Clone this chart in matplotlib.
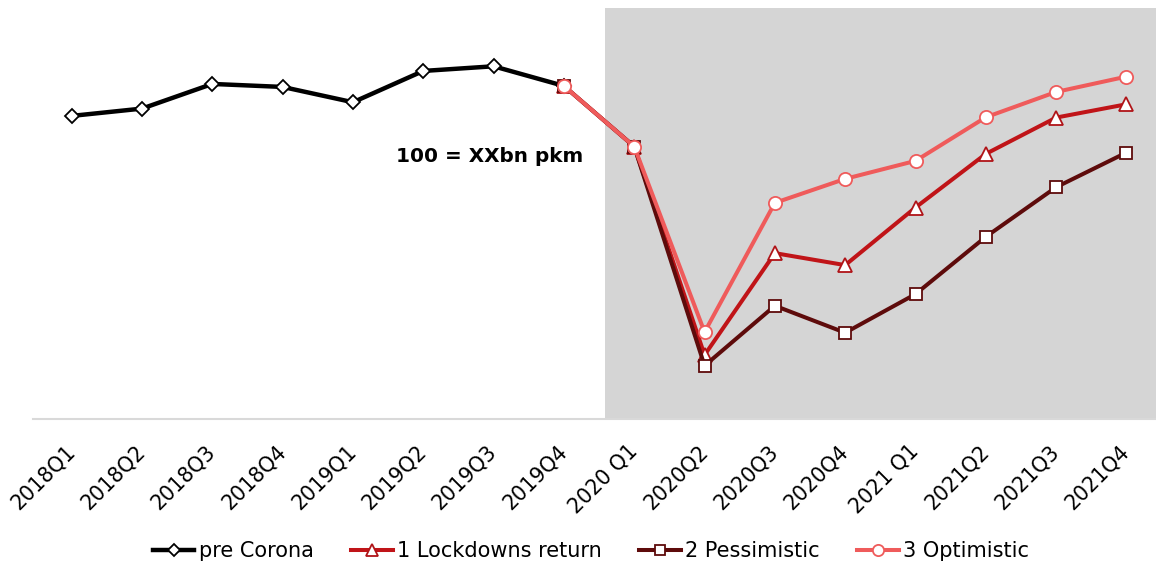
import matplotlib
matplotlib.use('Agg')
import matplotlib.pyplot as plt

# categories
quarters = ['2018Q1', '2018Q2', '2018Q3', '2018Q4', '2019Q1', '2019Q2', '2019Q3', '2019Q4',
            '2020 Q1', '2020Q2', '2020Q3', '2020Q4', '2021 Q1', '2021Q2', '2021Q3', '2021Q4']

# index values (2019Q4 = 100)
pre_corona = [91.0, 93.2, 100.6, 99.7, 95.1, 104.5, 105.9, 100.0]
# scenarios start at 2019Q4
lockdowns = [100.0, 81.8, 19.2, 49.8, 46.2, 63.5, 79.6, 90.5, 94.5]
pessimistic = [100.0, 81.8, 16.0, 34.0, 25.9, 37.5, 54.7, 69.6, 80.0]
optimistic = [100.0, 81.8, 26.1, 64.9, 72.1, 77.5, 90.6, 98.2, 102.8]

x_pre = list(range(len(pre_corona)))
x_scen = list(range(7, 7 + len(lockdowns)))

fig = plt.figure(figsize=(11.56, 5.66), dpi=100)
ax = fig.add_axes([33 / 1156, 147 / 566, 1123 / 1156, 411 / 566])

ax.set_xlim(-0.55, 15.42)
ax.set_ylim(0, 123.4)

# forecast period shading
ax.axvspan(7.59, 15.42, color='#D5D5D5', zorder=0, lw=0)

ax.plot(x_pre, pre_corona, color='black', lw=3.2, marker='D', ms=7,
        mfc='white', mec='black', mew=1.3, label='pre Corona', zorder=3)
ax.plot(x_scen, lockdowns, color='#C01418', lw=2.9, marker='^', ms=9.5,
        mfc='white', mec='#B01418', mew=1.3, label='1 Lockdowns return', zorder=4)
ax.plot(x_scen, pessimistic, color='#5E0B0B', lw=2.9, marker='s', ms=8,
        mfc='white', mec='#5E0B0B', mew=1.3, label='2 Pessimistic', zorder=5)
ax.plot(x_scen, optimistic, color='#EF5B5B', lw=2.9, marker='o', ms=9.5,
        mfc='white', mec='#EF5B5B', mew=1.3, label='3 Optimistic', zorder=6)

ax.text(5.94, 78.7, '100 = XXbn pkm', fontsize=14.4, fontweight='bold',
        ha='center', va='center')

ax.set_xticks(range(len(quarters)))
ax.set_xticklabels(quarters, fontsize=14.8)
ax.tick_params(axis='x', length=0, pad=21)
plt.setp(ax.get_xticklabels(), rotation=45, ha='right', va='center',
         rotation_mode='anchor')
ax.set_yticks([])

for s in ['top', 'right', 'left']:
    ax.spines[s].set_visible(False)
ax.spines['bottom'].set_color('#D9D9D9')
ax.spines['bottom'].set_linewidth(1.5)

fig.legend(loc='center', bbox_to_anchor=(0.511, 0.026), ncol=4, frameon=False,
           fontsize=15, handlelength=2.0, handletextpad=0.2, columnspacing=1.8,
           markerscale=0.85)

fig.savefig('out.png', dpi=100)
